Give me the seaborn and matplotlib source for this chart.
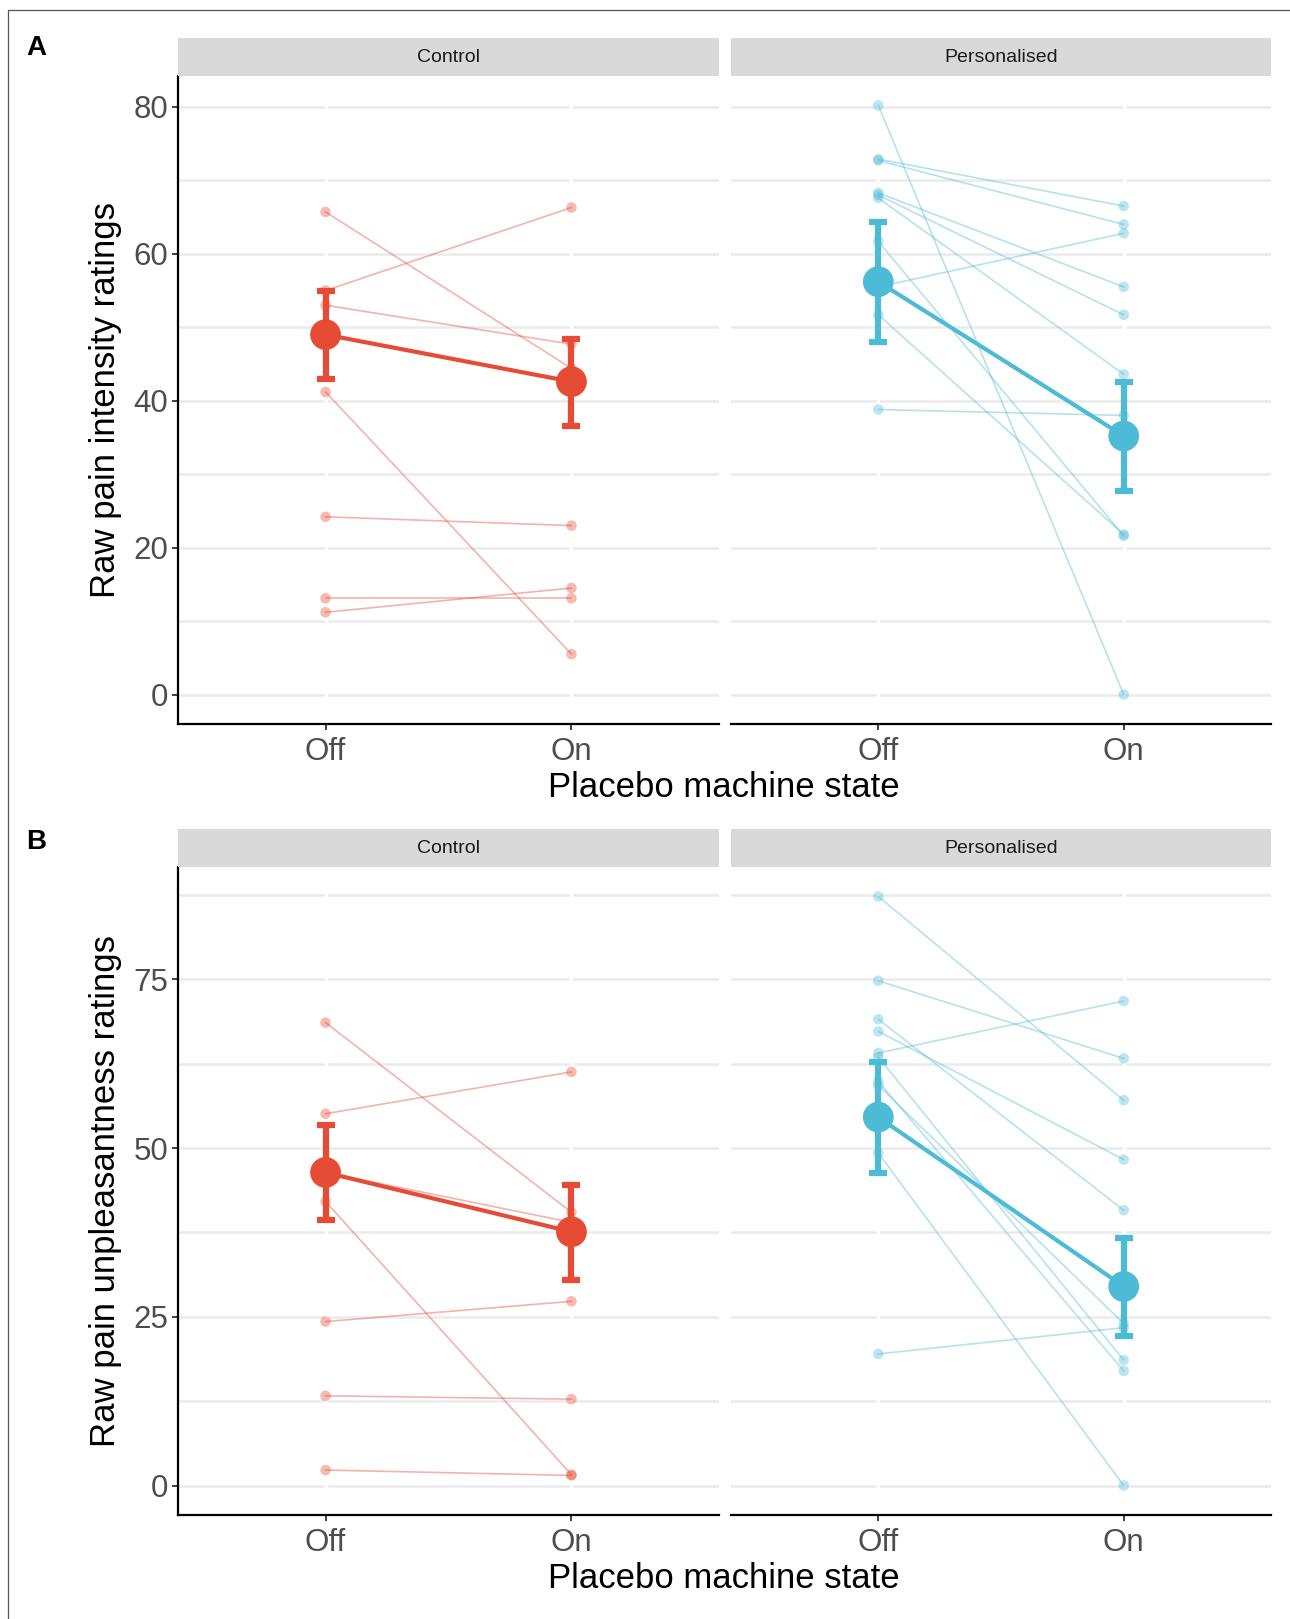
import numpy as np
import pandas as pd
import matplotlib
matplotlib.use("Agg")
import matplotlib.pyplot as plt
from matplotlib.lines import Line2D
import seaborn as sns

# ---------------------------------------------------------------- data
states = ["Off", "On"]
groups = ["Control", "Personalised"]
palette = {"Control": "#E64B35", "Personalised": "#4DBBD5"}

# A: raw pain intensity, one (Off, On) pair per participant
intensity_control_off = [65.7, 55.0, 53.0, 41.2, 24.2, 13.1, 11.2]
intensity_control_on = [44.4, 66.3, 47.7, 5.5, 23.0, 13.1, 14.5]
intensity_pers_off = [80.2, 72.9, 72.7, 68.3, 68.0, 67.6, 61.7, 55.5, 51.7, 38.8]
intensity_pers_on = [0.0, 66.5, 64.0, 55.5, 51.7, 43.6, 21.6, 62.8, 21.8, 38.0]

# A: estimated means with interval limits (Off, On)
intensity_control_mean = [49.0, 42.6]
intensity_control_lo = [43.0, 36.5]
intensity_control_hi = [55.0, 48.4]
intensity_pers_mean = [56.2, 35.2]
intensity_pers_lo = [48.0, 27.7]
intensity_pers_hi = [64.4, 42.6]

# B: raw pain unpleasantness
unpl_control_off = [68.6, 55.1, 46.4, 42.1, 24.3, 13.3, 2.3]
unpl_control_on = [40.5, 61.3, 39.0, 1.6, 27.3, 12.8, 1.5]
unpl_pers_off = [87.3, 74.8, 69.1, 67.3, 64.1, 63.5, 59.9, 59.3, 49.3, 19.5]
unpl_pers_on = [57.1, 63.3, 40.8, 48.3, 71.8, 18.6, 17.0, 24.0, 0.0, 23.4]

unpl_control_mean = [46.4, 37.6]
unpl_control_lo = [39.3, 30.5]
unpl_control_hi = [53.5, 44.6]
unpl_pers_mean = [54.6, 29.5]
unpl_pers_lo = [46.3, 22.2]
unpl_pers_hi = [62.7, 36.7]


def long_table(off, on):
    rows = []
    for pid, (a, b) in enumerate(zip(off, on)):
        rows.append({"pid": pid, "x": 0, "rating": a})
        rows.append({"pid": pid, "x": 1, "rating": b})
    return pd.DataFrame(rows)


def summary_table(mean, lo, hi):
    return pd.DataFrame({"x": [0, 1], "mean": mean, "lo": lo, "hi": hi})


panels = [
    {
        "tag": "A",
        "ylabel": "Raw pain intensity ratings",
        "major": [0, 20, 40, 60, 80],
        "minor": [10, 30, 50, 70],
        "ylim": (-4.01, 84.21),
        "data": {
            "Control": (long_table(intensity_control_off, intensity_control_on),
                        summary_table(intensity_control_mean, intensity_control_lo, intensity_control_hi)),
            "Personalised": (long_table(intensity_pers_off, intensity_pers_on),
                             summary_table(intensity_pers_mean, intensity_pers_lo, intensity_pers_hi)),
        },
        "top": 76, "bottom": 724, "strip_top": 38, "xlabel_y": 787, "tag_y": 48,
    },
    {
        "tag": "B",
        "ylabel": "Raw pain unpleasantness ratings",
        "major": [0, 25, 50, 75],
        "minor": [12.5, 37.5, 62.5, 87.5],
        "ylim": (-4.365, 91.665),
        "data": {
            "Control": (long_table(unpl_control_off, unpl_control_on),
                        summary_table(unpl_control_mean, unpl_control_lo, unpl_control_hi)),
            "Personalised": (long_table(unpl_pers_off, unpl_pers_on),
                             summary_table(unpl_pers_mean, unpl_pers_lo, unpl_pers_hi)),
        },
        "top": 867, "bottom": 1515, "strip_top": 829, "xlabel_y": 1578, "tag_y": 842,
    },
]

# ---------------------------------------------------------------- figure
sns.set_theme(style="white")
plt.rcParams["font.family"] = ["Liberation Sans", "DejaVu Sans"]

W, H = 1290, 1619
fig = plt.figure(figsize=(W / 100, H / 100), dpi=100)
fig.patch.set_facecolor("white")


def box(x0, y0, x1, y1):
    return [x0 / W, 1 - y1 / H, (x1 - x0) / W, (y1 - y0) / H]


# outer frame
fig.add_artist(Line2D([8 / W, 1.0], [1 - 10 / H, 1 - 10 / H], color="#555555", lw=0.9,
                      transform=fig.transFigure))
fig.add_artist(Line2D([8 / W, 8 / W], [0, 1 - 10 / H], color="#555555", lw=0.9,
                      transform=fig.transFigure))

columns = [("Control", 178, 719), ("Personalised", 731, 1271)]
tick_color = "#4D4D4D"

for p in panels:
    for ci, (grp, x0, x1) in enumerate(columns):
        ax = fig.add_axes(box(x0, p["top"], x1, p["bottom"]))
        indiv, summ = p["data"][grp]
        col = palette[grp]

        # grid
        for v in p["major"] + p["minor"]:
            ax.axhline(v, color="#EBEBEB", lw=1.8, zorder=0)
        for xv in (0, 1):
            ax.axvline(xv, color="white", lw=2.4, zorder=0.5)

        # individual participants
        sns.lineplot(data=indiv, x="x", y="rating", units="pid", estimator=None,
                     color=col, alpha=0.42, lw=1.2, ax=ax, zorder=2)
        sns.scatterplot(data=indiv, x="x", y="rating", color=col, alpha=0.38,
                        s=58, edgecolor="none", ax=ax, zorder=2.5)

        # estimated means with intervals
        ax.errorbar(summ["x"], summ["mean"],
                    yerr=[summ["mean"] - summ["lo"], summ["hi"] - summ["mean"]],
                    fmt="none", ecolor=col, elinewidth=4.5, capsize=6.5, capthick=4.5,
                    zorder=3)
        sns.lineplot(data=summ, x="x", y="mean", color=col, lw=3.0, ax=ax, zorder=4)
        sns.scatterplot(data=summ, x="x", y="mean", color=col, s=490,
                        edgecolor="none", ax=ax, zorder=5)

        ax.set_xlim(-0.6, 1.6)
        ax.set_ylim(*p["ylim"])
        ax.set_xticks([0, 1])
        ax.set_xticklabels(states)
        ax.set_yticks(p["major"])
        ax.set_xlabel("")
        ax.set_ylabel("")
        ax.set_facecolor("white")
        for s in ("top", "right"):
            ax.spines[s].set_visible(False)
        ax.spines["bottom"].set_color("black")
        ax.spines["bottom"].set_linewidth(1.6)
        ax.tick_params(axis="x", length=4, width=1.3, color="#333333", pad=5,
                       labelsize=22.5, labelcolor=tick_color, bottom=True)
        if ci == 0:
            ax.spines["left"].set_color("black")
            ax.spines["left"].set_linewidth(1.6)
            ax.tick_params(axis="y", length=4, width=1.3, color="#333333", pad=3,
                           labelsize=22.5, labelcolor=tick_color, left=True)
        else:
            ax.spines["left"].set_visible(False)
            ax.tick_params(axis="y", left=False, labelleft=False)

        # facet strip
        sax = fig.add_axes(box(x0, p["strip_top"], x1, p["top"]))
        sax.set_facecolor("#D9D9D9")
        sax.set_xticks([])
        sax.set_yticks([])
        for s in sax.spines.values():
            s.set_visible(False)
        sax.text(0.5, 0.5, grp, ha="center", va="center", fontsize=14,
                 color="#1A1A1A", transform=sax.transAxes)

    fig.text(724 / W, 1 - p["xlabel_y"] / H, "Placebo machine state", ha="center",
             va="center", fontsize=25, color="black")
    fig.text(106 / W, 1 - (p["top"] + p["bottom"]) / 2 / H, p["ylabel"], ha="center",
             va="center", rotation=90, fontsize=25, color="black")
    fig.text(36 / W, 1 - p["tag_y"] / H, p["tag"], ha="center", va="center",
             fontsize=20, fontweight="bold", color="black")

fig.savefig("out.png", dpi=100, facecolor="white")
